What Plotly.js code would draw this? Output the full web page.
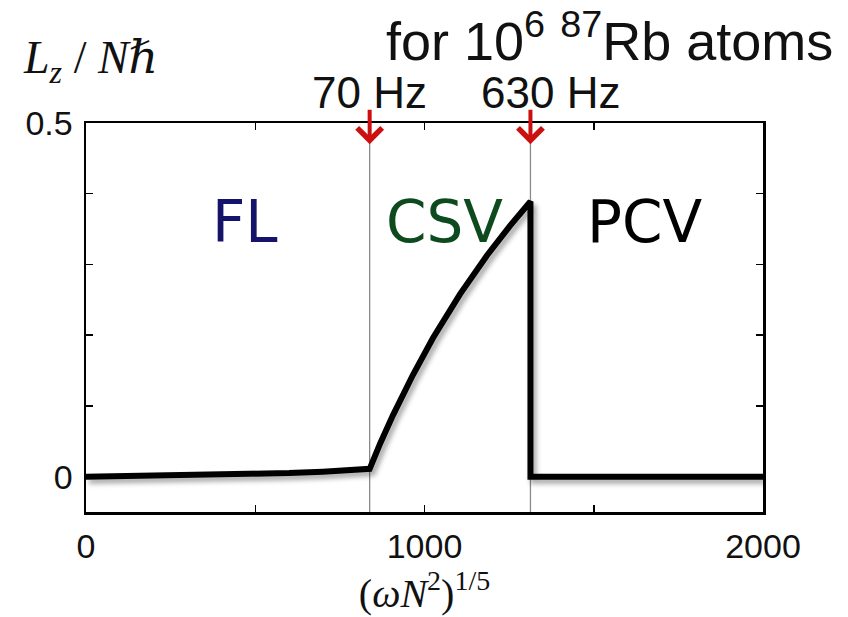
<!DOCTYPE html>
<html>
<head>
<meta charset="utf-8">
<script src="https://cdn.plot.ly/plotly-3.0.1.min.js"></script>
<style>
  html, body { margin: 0; padding: 0; background: #fff; }
  #chart { width: 848px; height: 617px; }
  .scatterlayer .js-line { filter: drop-shadow(3px 4px 2.5px rgba(0,0,0,0.35)); }
</style>
</head>
<body>
<div id="chart"></div>
<script>
// Data
const omegaN = [0, 200, 400, 600, 700, 800, 838, 870, 907, 966, 1025, 1105, 1185, 1253, 1313, 1313, 2000];
const LzPerN = [0, 0.001, 0.003, 0.005, 0.007, 0.009, 0.011, 0.048, 0.087, 0.144, 0.196, 0.258, 0.313, 0.355, 0.389, 0, 0];

// Transition points and their frequency labels
const transitionX = [838, 1313];
const transitionLabels = ['70 Hz', '630 Hz'];

// Phase regions
const phaseNames = ['FL', 'CSV', 'PCV'];
const phaseX = [470, 1060, 1650];
const phaseY = [0.36, 0.36, 0.36];
const phaseColors = ['#16146a', '#0d4b1f', '#000000'];

// Axis ticks
const xTickVals = [0, 500, 1000, 1500, 2000];
const xTickText = ['0', '', '1000', '', '2000'];
const yTickVals = [0, 0.1, 0.2, 0.3, 0.4, 0.5];
const yTickText = ['0', '', '', '', '', '0.5'];

const trace = {
  x: omegaN,
  y: LzPerN,
  type: 'scatter',
  mode: 'lines',
  line: { color: '#000', width: 6, shape: 'linear' },
  hoverinfo: 'skip'
};

const annotations = [];
transitionX.forEach((xv, i) => {
  // red arrow
  annotations.push({
    x: xv, y: 0.47, xref: 'x', yref: 'y',
    text: '', showarrow: true, ax: 0, ay: -36,
    arrowcolor: '#cc1010', arrowwidth: 4, arrowhead: 4, arrowsize: 1.2
  });
  // frequency label
  annotations.push({
    x: xv, y: 1, xref: 'x', yref: 'paper',
    text: transitionLabels[i], showarrow: false,
    xanchor: 'center', yanchor: 'middle',
    xshift: i === 0 ? 0 : 20, yshift: 31,
    font: { family: 'Liberation Sans, Arial, sans-serif', size: 44, color: '#111' }
  });
});
phaseNames.forEach((name, i) => {
  annotations.push({
    x: phaseX[i], y: phaseY[i], xref: 'x', yref: 'y',
    text: name, showarrow: false, xanchor: 'center', yanchor: 'middle',
    font: { family: 'DejaVu Sans, Verdana, sans-serif', size: 58, color: phaseColors[i] }
  });
});
// header text
annotations.push({
  x: 1, y: 1, xref: 'paper', yref: 'paper',
  text: 'for 10<sup>6</sup> <sup>87</sup>Rb atoms', showarrow: false,
  xanchor: 'right', yanchor: 'middle', xshift: 72, yshift: 86,
  font: { family: 'Liberation Sans, Arial, sans-serif', size: 54, color: '#111' }
});
// y label
annotations.push({
  x: 0, y: 1, xref: 'paper', yref: 'paper',
  text: '<i>L<sub>z</sub></i> / <i>Nℏ</i>', showarrow: false,
  xanchor: 'center', yanchor: 'middle', xshift: 4, yshift: 62,
  font: { family: 'Liberation Serif, DejaVu Serif, serif', size: 46, color: '#111' }
});

const shapes = transitionX.map(xv => ({
  type: 'line', xref: 'x', yref: 'paper', x0: xv, x1: xv, y0: 0, y1: 1,
  line: { color: '#8a8a8a', width: 1.3 }, layer: 'below'
}));

const layout = {
  width: 848, height: 617,
  margin: { l: 86, r: 85, t: 123, b: 105 },
  paper_bgcolor: '#fff', plot_bgcolor: '#fff',
  showlegend: false,
  font: { family: 'Liberation Sans, Arial, sans-serif', color: '#111' },
  xaxis: {
    range: [0, 2000], showgrid: false, zeroline: false,
    showline: true, linecolor: '#000', linewidth: 2.5, mirror: 'ticks',
    ticks: 'inside', ticklen: 7, tickwidth: 1.5, tickcolor: '#000',
    tickvals: xTickVals, ticktext: xTickText,
    tickfont: { size: 34, family: 'Liberation Sans, Arial, sans-serif', color: '#111' },
    ticklabelstandoff: 3,
    title: { text: '(<i>ωN</i><sup>2</sup>)<sup>1/5</sup>', standoff: 0,
             font: { family: 'Liberation Serif, DejaVu Serif, serif', size: 40, color: '#111' } }
  },
  yaxis: {
    range: [-0.05, 0.5], showgrid: false, zeroline: false,
    showline: true, linecolor: '#000', linewidth: 2.5, mirror: 'ticks',
    ticks: 'inside', ticklen: 7, tickwidth: 1.5, tickcolor: '#000',
    tickvals: yTickVals, ticktext: yTickText,
    tickfont: { size: 34, family: 'Liberation Sans, Arial, sans-serif', color: '#111' },
    ticklabelstandoff: 4
  },
  annotations: annotations,
  shapes: shapes
};

Plotly.newPlot('chart', [trace], layout, { displayModeBar: false, staticPlot: true });
</script>
</body>
</html>
